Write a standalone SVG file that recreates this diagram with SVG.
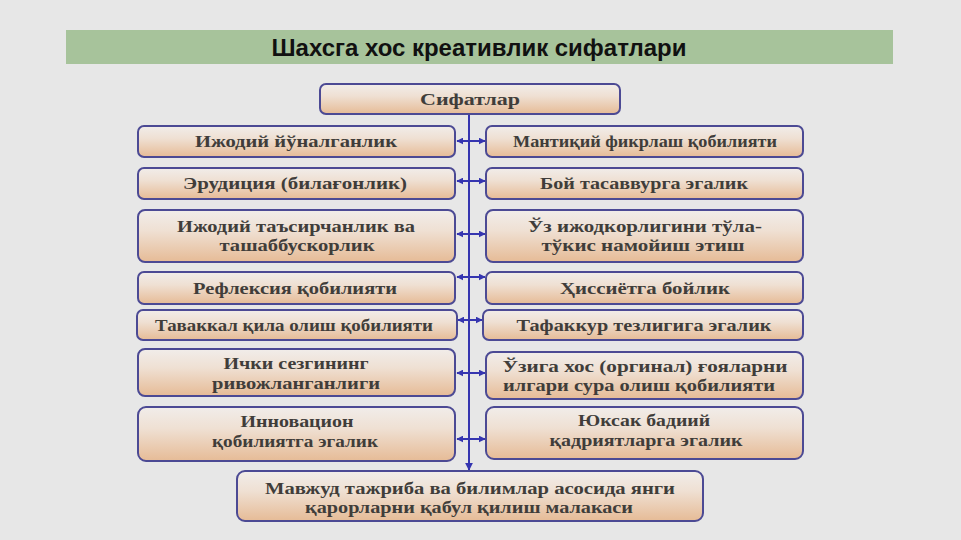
<svg xmlns="http://www.w3.org/2000/svg" width="961" height="540" viewBox="0 0 961 540">
<defs>
<linearGradient id="bx" x1="0" y1="0" x2="0" y2="1">
<stop offset="0" stop-color="#f1edea"/>
<stop offset="0.4" stop-color="#efe0d3"/>
<stop offset="1" stop-color="#e6bb96"/>
</linearGradient>
<marker id="ah" viewBox="0 0 10 10" refX="9" refY="5" markerWidth="7" markerHeight="7" orient="auto-start-reverse" markerUnits="userSpaceOnUse">
<path d="M0,0 L10,5 L0,10 z" fill="#3535b0"/>
</marker>
<marker id="ahd" viewBox="0 0 10 10" refX="9" refY="5" markerWidth="8" markerHeight="8" orient="auto" markerUnits="userSpaceOnUse">
<path d="M0,0 L10,5 L0,10 z" fill="#3535b0"/>
</marker>
</defs>
<style>
.box{fill:url(#bx);stroke:#4c4a94;stroke-width:2}
.t{font-family:"Liberation Serif","DejaVu Serif",serif;font-weight:bold;font-size:17px;fill:#403d3a;text-anchor:middle}
.c{stroke:#3535b0;stroke-width:2;fill:none}
.title{font-family:"Liberation Sans","Arial",sans-serif;font-weight:bold;font-size:24px;fill:#111;text-anchor:middle}
</style>
<rect x="0" y="0" width="961" height="540" fill="#e7e7e7"/>
<rect x="66" y="30" width="827" height="34" fill="#a7c39b"/>
<text class="title" x="479" y="56" textLength="415" lengthAdjust="spacingAndGlyphs">Шахсга хос креативлик сифатлари</text>

<g id="connectors">
<line class="c" x1="469" y1="114" x2="469" y2="470" marker-end="url(#ahd)"/>
<line class="c" x1="457" y1="141" x2="485" y2="141" marker-start="url(#ah)" marker-end="url(#ah)"/>
<line class="c" x1="457" y1="181" x2="485" y2="181" marker-start="url(#ah)" marker-end="url(#ah)"/>
<line class="c" x1="457" y1="234" x2="485" y2="234" marker-start="url(#ah)" marker-end="url(#ah)"/>
<line class="c" x1="457" y1="277" x2="485" y2="277" marker-start="url(#ah)" marker-end="url(#ah)"/>
<line class="c" x1="458" y1="320" x2="482" y2="320" marker-start="url(#ah)" marker-end="url(#ah)"/>
<line class="c" x1="457" y1="373" x2="485" y2="373" marker-start="url(#ah)" marker-end="url(#ah)"/>
<line class="c" x1="457" y1="439" x2="485" y2="439" marker-start="url(#ah)" marker-end="url(#ah)"/>
</g>

<g id="top">
<rect class="box" x="320" y="84" width="300" height="30" rx="6"/>
<text class="t" x="470" y="105" textLength="100" lengthAdjust="spacingAndGlyphs">Сифатлар</text>
</g>

<g id="l1"><rect class="box" x="138" y="126" width="317" height="31" rx="6"/>
<text class="t" x="296" y="147" textLength="202" lengthAdjust="spacingAndGlyphs">Ижодий йўналганлик</text></g>
<g id="r1"><rect class="box" x="486" y="126" width="317" height="31" rx="6"/>
<text class="t" x="645" y="147" textLength="264" lengthAdjust="spacingAndGlyphs">Мантиқий фикрлаш қобилияти</text></g>

<g id="l2"><rect class="box" x="138" y="168" width="317" height="31" rx="6"/>
<text class="t" x="295" y="189" textLength="224" lengthAdjust="spacingAndGlyphs">Эрудиция (билағонлик)</text></g>
<g id="r2"><rect class="box" x="486" y="168" width="317" height="31" rx="6"/>
<text class="t" x="644" y="189" textLength="208" lengthAdjust="spacingAndGlyphs">Бой тасаввурга эгалик</text></g>

<g id="l3"><rect class="box" x="138" y="210" width="317" height="52" rx="7"/>
<text class="t" x="296" y="232" textLength="238" lengthAdjust="spacingAndGlyphs">Ижодий таъсирчанлик ва</text>
<text class="t" x="297" y="251" textLength="155" lengthAdjust="spacingAndGlyphs">ташаббускорлик</text></g>
<g id="r3"><rect class="box" x="486" y="210" width="317" height="52" rx="7"/>
<text class="t" x="645" y="232" textLength="234" lengthAdjust="spacingAndGlyphs">Ўз ижодкорлигини тўла-</text>
<text class="t" x="643" y="251" textLength="203" lengthAdjust="spacingAndGlyphs">тўкис намойиш этиш</text></g>

<g id="l4"><rect class="box" x="138" y="272" width="317" height="32" rx="6"/>
<text class="t" x="295" y="294" textLength="204" lengthAdjust="spacingAndGlyphs">Рефлексия қобилияти</text></g>
<g id="r4"><rect class="box" x="486" y="272" width="317" height="32" rx="6"/>
<text class="t" x="645" y="294" textLength="170" lengthAdjust="spacingAndGlyphs">Ҳиссиётга бойлик</text></g>

<g id="l5"><rect class="box" x="137" y="310" width="320" height="30" rx="6"/>
<text class="t" x="294" y="331" textLength="278" lengthAdjust="spacingAndGlyphs">Таваккал қила олиш қобилияти</text></g>
<g id="r5"><rect class="box" x="483" y="310" width="320" height="30" rx="6"/>
<text class="t" x="644" y="331" textLength="255" lengthAdjust="spacingAndGlyphs">Тафаккур тезлигига эгалик</text></g>

<g id="l6"><rect class="box" x="138" y="349" width="317" height="47" rx="7"/>
<text class="t" x="296" y="369" textLength="145" lengthAdjust="spacingAndGlyphs">Ички сезгининг</text>
<text class="t" x="296" y="389" textLength="168" lengthAdjust="spacingAndGlyphs">ривожланганлиги</text></g>
<g id="r6"><rect class="box" x="486" y="352" width="317" height="47" rx="7"/>
<text class="t" x="645" y="372" textLength="285" lengthAdjust="spacingAndGlyphs">Ўзига хос (оргинал) ғояларни</text>
<text class="t" x="639" y="391" textLength="272" lengthAdjust="spacingAndGlyphs">илгари сура олиш қобилияти</text></g>

<g id="l7"><rect class="box" x="138" y="407" width="317" height="54" rx="8"/>
<text class="t" x="297" y="427" textLength="113" lengthAdjust="spacingAndGlyphs">Инновацион</text>
<text class="t" x="295" y="447" textLength="166" lengthAdjust="spacingAndGlyphs">қобилиятга эгалик</text></g>
<g id="r7"><rect class="box" x="486" y="407" width="317" height="52" rx="8"/>
<text class="t" x="644" y="426" textLength="132" lengthAdjust="spacingAndGlyphs">Юксак бадиий</text>
<text class="t" x="646" y="446" textLength="193" lengthAdjust="spacingAndGlyphs">қадриятларга эгалик</text></g>

<g id="bottom"><rect class="box" x="237" y="471" width="466" height="50" rx="8"/>
<text class="t" x="470" y="494" textLength="410" lengthAdjust="spacingAndGlyphs">Мавжуд тажриба ва билимлар асосида янги</text>
<text class="t" x="469" y="513" textLength="328" lengthAdjust="spacingAndGlyphs">қарорларни қабул қилиш малакаси</text></g>
</svg>
